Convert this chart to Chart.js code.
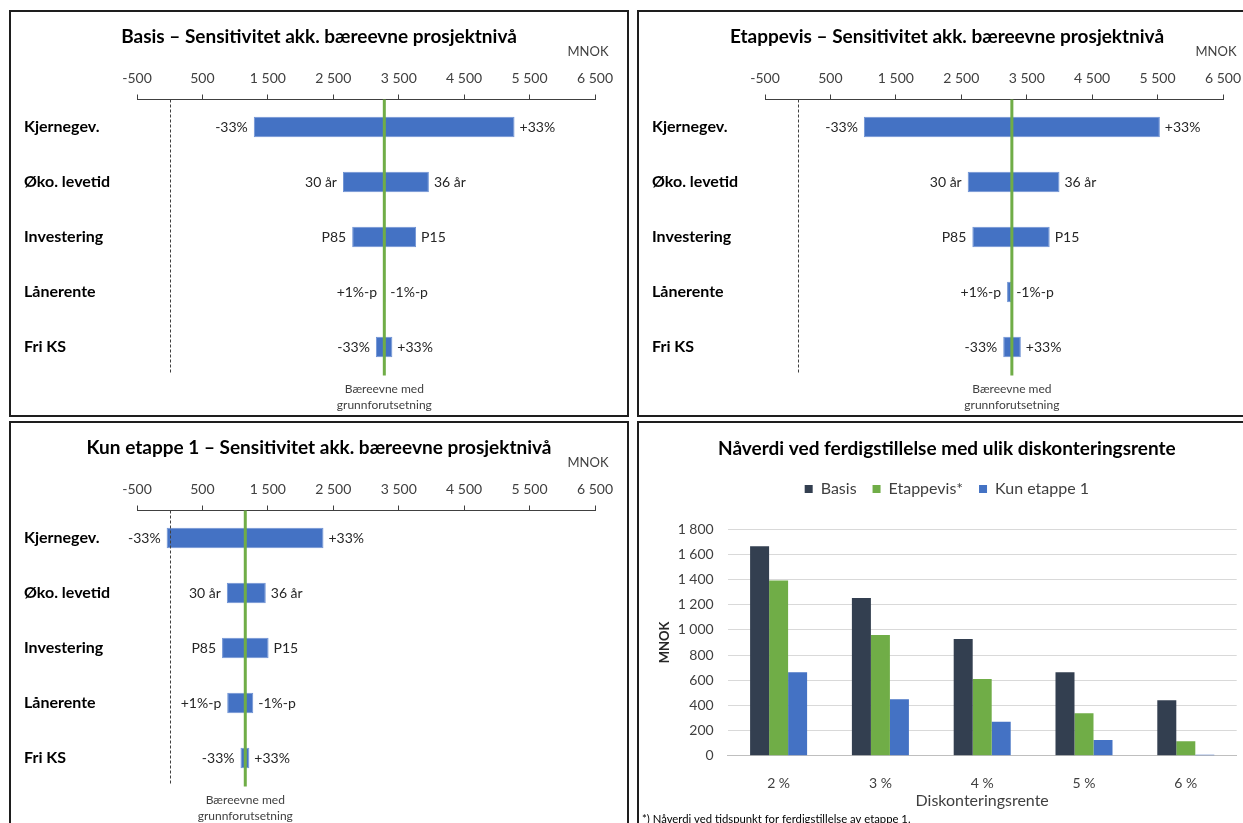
<!DOCTYPE html>
<html>
<head>
<meta charset="utf-8">
<script src="https://cdn.jsdelivr.net/npm/chart.js@4.4.1/dist/chart.umd.min.js"></script>
<style>
  html, body { margin: 0; padding: 0; background: #fff; overflow: hidden; }
  .panel { position: absolute; width: 620px; height: 407px; border: 2px solid #1e1e1e; box-sizing: border-box; background: #fff; }
  canvas { display: block; }
</style>
</head>
<body>
<div class="panel" style="left:9px;top:10px"><canvas id="basisChart" width="616" height="403"></canvas></div>
<div class="panel" style="left:637px;top:10px"><canvas id="etappevisChart" width="616" height="403"></canvas></div>
<div class="panel" style="left:9px;top:421px"><canvas id="etappe1Chart" width="616" height="403"></canvas></div>
<div class="panel" style="left:637px;top:421px"><canvas id="npvChart" width="616" height="404"></canvas></div>
<script>
// Tornado charts: categories, end labels and [low, high] values in MNOK
const tornadoCategories = ['Kjernegev.', 'Øko. levetid', 'Investering', 'Lånerente', 'Fri KS'];
const lowLabels = ['-33%', '30 år', 'P85', '+1%-p', '-33%'];
const highLabels = ['+33%', '36 år', 'P15', '-1%-p', '+33%'];
const axisMin = -500;
const axisMax = 6500;
const axisStep = 1000;

const basisRanges = [[1285, 5270], [2648, 3961], [2789, 3766], [3262, 3296], [3151, 3403]];
const basisBase = 3280;
const etappevisRanges = [[1011, 5535], [2598, 4001], [2669, 3851], [3200, 3262], [3141, 3410]];
const etappevisBase = 3273;
const etappe1Ranges = [[-47, 2350], [873, 1468], [800, 1511], [879, 1277], [1082, 1217]];
const etappe1Base = 1155;

// Net present value by discount rate
const rateLabels = ['2 %', '3 %', '4 %', '5 %', '6 %'];
const npvBasis = [1665, 1254, 928, 663, 440];
const npvEtappevis = [1392, 960, 610, 337, 114];
const npvEtappe1 = [663, 448, 270, 125, 8];

Chart.defaults.font.family = 'Lato';
Chart.defaults.color = '#404040';

function fmt(v) {
    const s = Math.abs(v).toString().replace(/\B(?=(\d{3})+(?!\d))/g, ' ');
    return (v < 0 ? '-' : '') + s;
}

function tornadoChart(id, title, ranges, baseValue) {
    const decor = {
        id: 'decor',
        afterDatasetsDraw(chart) {
            const {ctx, chartArea, scales: {x}} = chart;
            ctx.save();
            // zero line
            const x0 = Math.round(x.getPixelForValue(0)) + 0.5;
            ctx.strokeStyle = '#404040';
            ctx.lineWidth = 1;
            ctx.setLineDash([3, 2]);
            ctx.beginPath();
            ctx.moveTo(x0, chartArea.top);
            ctx.lineTo(x0, chartArea.bottom);
            ctx.stroke();
            // base case line
            ctx.setLineDash([]);
            const xb = x.getPixelForValue(baseValue);
            ctx.strokeStyle = '#70AD47';
            ctx.lineWidth = 3;
            ctx.beginPath();
            ctx.moveTo(xb, chartArea.top);
            ctx.lineTo(xb, chartArea.bottom + 1);
            ctx.stroke();
            // end labels
            ctx.font = '14px Lato';
            ctx.fillStyle = '#262626';
            ctx.textBaseline = 'middle';
            chart.getDatasetMeta(0).data.forEach((bar, i) => {
                const p = bar.getProps(['x', 'base', 'y'], true);
                const left = Math.min(p.x, p.base);
                const right = Math.max(p.x, p.base);
                ctx.textAlign = 'right';
                ctx.fillText(lowLabels[i], left - 6, p.y);
                ctx.textAlign = 'left';
                ctx.fillText(highLabels[i], right + 5, p.y);
            });
            // base label
            ctx.font = '12px Lato';
            ctx.fillStyle = '#404040';
            ctx.textAlign = 'center';
            ctx.fillText('Bæreevne med', xb, 377);
            ctx.fillText('grunnforutsetning', xb, 393);
            // title + unit
            ctx.font = 'bold 19px Lato';
            ctx.fillStyle = '#000';
            ctx.fillText(title, 308, 25);
            ctx.font = '13px Lato';
            ctx.fillStyle = '#404040';
            ctx.fillText('MNOK', 577, 40);
            ctx.restore();
        }
    };

    return new Chart(document.getElementById(id), {
        type: 'bar',
        data: {
            labels: tornadoCategories,
            datasets: [{
                data: ranges,
                backgroundColor: '#4472C4',
                borderColor: '#6F93D4',
                borderWidth: 1,
                borderSkipped: false,
                barPercentage: 0.375,
                categoryPercentage: 1
            }]
        },
        options: {
            indexAxis: 'y',
            responsive: false,
            animation: false,
            layout: { padding: { left: 13, top: 40, right: 32, bottom: 40.5 } },
            plugins: { legend: { display: false }, tooltip: { enabled: false } },
            scales: {
                x: {
                    position: 'top',
                    min: axisMin,
                    max: axisMax,
                    ticks: { stepSize: axisStep, callback: fmt, font: { size: 14 }, color: '#404040', padding: 8, maxRotation: 0 },
                    grid: { drawOnChartArea: false, drawTicks: true, tickLength: 5, color: '#404040' },
                    border: { display: true, color: '#404040' },
                    afterFit(s) { s.height = 47.5; }
                },
                y: {
                    ticks: { crossAlign: 'far', padding: 0, font: { size: 16, weight: 'bold' }, color: '#000' },
                    grid: { display: false },
                    border: { display: false },
                    afterFit(s) { s.width = 113; }
                }
            }
        },
        plugins: [decor]
    });
}

tornadoChart('basisChart', 'Basis – Sensitivitet akk. bæreevne prosjektnivå', basisRanges, basisBase);
tornadoChart('etappevisChart', 'Etappevis – Sensitivitet akk. bæreevne prosjektnivå', etappevisRanges, etappevisBase);
tornadoChart('etappe1Chart', 'Kun etappe 1 – Sensitivitet akk. bæreevne prosjektnivå', etappe1Ranges, etappe1Base);

// extra room under the legend, and the footnote
const legendGap = {
    id: 'legendGap',
    beforeLayout(chart) {
        const lg = chart.legend;
        if (lg && !lg._gapPatched) {
            const fit = lg.fit;
            lg.fit = function () { fit.call(this); this.height += 22.3; };
            lg._gapPatched = true;
        }
    },
    afterDraw(chart) {
        const ctx = chart.ctx;
        ctx.save();
        ctx.font = '11.3px Lato';
        ctx.fillStyle = '#000';
        ctx.textAlign = 'left';
        ctx.textBaseline = 'middle';
        ctx.fillText('*) Nåverdi ved tidspunkt for ferdigstillelse av etappe 1.', 3, 396);
        ctx.restore();
    }
};

new Chart(document.getElementById('npvChart'), {
    type: 'bar',
    data: {
        labels: rateLabels,
        datasets: [
            { label: 'Basis', data: npvBasis, backgroundColor: '#333F50' },
            { label: 'Etappevis*', data: npvEtappevis, backgroundColor: '#70AD47' },
            { label: 'Kun etappe 1', data: npvEtappe1, backgroundColor: '#4472C4' }
        ]
    },
    options: {
        responsive: false,
        animation: false,
        categoryPercentage: 0.56,
        barPercentage: 1,
        layout: { padding: { left: 18, right: 18.3, top: 0, bottom: 13 } },
        plugins: {
            title: {
                display: true,
                text: 'Nåverdi ved ferdigstillelse med ulik diskonteringsrente',
                color: '#000',
                font: { size: 19, weight: 'bold' },
                padding: { top: 14.9, bottom: 4.3 }
            },
            legend: {
                labels: { boxWidth: 8, boxHeight: 8, padding: 16, font: { size: 16 }, color: '#404040' }
            },
            tooltip: { enabled: false }
        },
        scales: {
            x: {
                grid: { display: false },
                border: { display: true, color: '#BFBFBF' },
                ticks: { font: { size: 14 }, color: '#404040', padding: 11 },
                title: { display: true, text: 'Diskonteringsrente', font: { size: 16 }, color: '#404040', padding: { top: 0, bottom: 4 } },
                afterFit(s) { s.height = 58.3; }
            },
            y: {
                min: 0,
                max: 1800,
                ticks: { stepSize: 200, callback: fmt, font: { size: 14 }, color: '#404040', padding: 14 },
                grid: { color: '#D9D9D9', drawTicks: false },
                border: { display: false },
                title: { display: true, text: 'MNOK', font: { size: 13, weight: 'bold' }, color: '#262626', padding: { top: 0, bottom: 0 } },
                afterFit(s) { s.width = 70.7; }
            }
        }
    },
    plugins: [legendGap]
});
</script>
</body>
</html>
